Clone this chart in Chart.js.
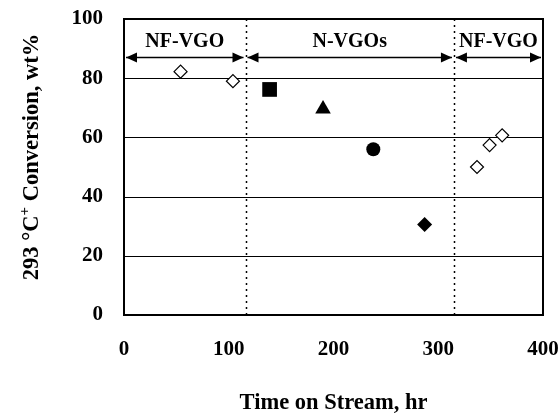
<!DOCTYPE html>
<html>
<head>
<meta charset="utf-8">
<script src="https://cdn.jsdelivr.net/npm/chart.js@4"></script>
<style>
  body { margin: 0; background: #fff; }
  #chart { display: block; }
</style>
</head>
<body>
<canvas id="chart" width="560" height="414"></canvas>
<script>
// NF-VGO feed (open diamonds)
const nfHours = [54, 104, 337, 349, 361];
const nfConv = [82.2, 79.0, 50.0, 57.4, 60.7];

// N-VGO feeds, one marker each
const nHours = [139, 190, 238, 287];
const nConv = [76.2, 69.6, 56.0, 30.6];

// feed periods along the top
const regionLabels = ['NF-VGO', 'N-VGOs', 'NF-VGO'];
const regionBounds = [0, 116, 315, 400];
const arrowLevel = 87.3;
const labelLevel = 92.3;

const yTicks = [0, 20, 40, 60, 80, 100];
const xTicks = [0, 100, 200, 300, 400];

const serif = 'Liberation Serif, Times New Roman, serif';

const nStyles = [
  { style: 'rect', r: 10.4 },
  { style: 'triangle', r: 9 },
  { style: 'circle', r: 7 },
  { style: 'rectRot', r: 7.5 }
];

const datasets = [{
  label: 'NF-VGO',
  data: nfHours.map((h, i) => ({ x: h, y: nfConv[i] })),
  pointStyle: 'rectRot',
  pointRadius: 6.5,
  backgroundColor: '#fff',
  borderColor: '#000',
  borderWidth: 1.2
}];
nHours.forEach((h, i) => {
  datasets.push({
    label: 'N-VGO ' + (i + 1),
    data: [{ x: h, y: nConv[i] }],
    pointStyle: nStyles[i].style,
    pointRadius: nStyles[i].r,
    backgroundColor: '#000',
    borderColor: '#000',
    borderWidth: 0
  });
});

// plot box taken from the scales themselves
function box(chart) {
  const { x, y } = chart.scales;
  return {
    left: x.getPixelForValue(x.min), right: x.getPixelForValue(x.max),
    top: y.getPixelForValue(y.max), bottom: y.getPixelForValue(y.min)
  };
}

const decor = {
  id: 'decor',
  beforeDatasetsDraw(chart) {
    const { ctx, scales: { x, y } } = chart;
    const a = box(chart);
    ctx.save();
    ctx.strokeStyle = '#000';
    ctx.lineWidth = 1;
    yTicks.forEach(v => {
      const py = Math.round(y.getPixelForValue(v)) + 0.5;
      ctx.beginPath();
      ctx.moveTo(a.left, py);
      ctx.lineTo(a.right, py);
      ctx.stroke();
    });
    ctx.lineWidth = 1.5;
    ctx.setLineDash([2, 4]);
    regionBounds.slice(1, -1).forEach(v => {
      const px = Math.round(x.getPixelForValue(v)) + 0.5;
      ctx.beginPath();
      ctx.moveTo(px, a.top);
      ctx.lineTo(px, a.bottom);
      ctx.stroke();
    });
    ctx.restore();
  },
  afterDatasetsDraw(chart) {
    const { ctx, scales: { x, y } } = chart;
    const a = box(chart);
    ctx.save();
    // arrows and labels
    const ay = Math.round(y.getPixelForValue(arrowLevel)) + 0.5;
    const ly = y.getPixelForValue(labelLevel);
    ctx.fillStyle = '#000';
    ctx.strokeStyle = '#000';
    ctx.lineWidth = 1.5;
    ctx.font = 'bold 20px ' + serif;
    ctx.textAlign = 'center';
    ctx.textBaseline = 'middle';
    for (let i = 0; i < regionLabels.length; i++) {
      const x0 = x.getPixelForValue(regionBounds[i]) + 2;
      const x1 = x.getPixelForValue(regionBounds[i + 1]) - 2;
      ctx.beginPath();
      ctx.moveTo(x0, ay);
      ctx.lineTo(x1, ay);
      ctx.stroke();
      [[x0, 1], [x1, -1]].forEach(([px, dir]) => {
        ctx.beginPath();
        ctx.moveTo(px, ay);
        ctx.lineTo(px + dir * 11, ay - 5);
        ctx.lineTo(px + dir * 11, ay + 5);
        ctx.closePath();
        ctx.fill();
      });
      ctx.fillText(regionLabels[i], (x0 + x1) / 2, ly);
    }
    // frame
    ctx.lineWidth = 2;
    ctx.strokeRect(a.left, a.top, a.right - a.left, a.bottom - a.top);

    // y axis title with superscript +
    const parts = [
      { t: '293 °C', f: 'bold 22.5px ' + serif, dy: 0 },
      { t: '+', f: 'bold 15px ' + serif, dy: -9 },
      { t: ' Conversion, wt%', f: 'bold 22.5px ' + serif, dy: 0 }
    ];
    let total = 0;
    parts.forEach(p => { ctx.font = p.f; p.w = ctx.measureText(p.t).width; total += p.w; });
    ctx.translate(37.5, a.top + (a.bottom - a.top) / 2 - 10);
    ctx.rotate(-Math.PI / 2);
    ctx.textAlign = 'left';
    ctx.textBaseline = 'alphabetic';
    let cx = -total / 2;
    parts.forEach(p => {
      ctx.font = p.f;
      ctx.fillText(p.t, cx, p.dy);
      cx += p.w;
    });
    ctx.restore();
  }
};

new Chart(document.getElementById('chart'), {
  type: 'scatter',
  data: { datasets },
  options: {
    responsive: false,
    animation: false,
    layout: { padding: { left: 0, top: 19, right: 17, bottom: 0 } },
    plugins: { legend: { display: false }, tooltip: { enabled: false } },
    scales: {
      x: {
        type: 'linear',
        min: 0, max: 400,
        afterBuildTicks: s => { s.ticks = xTicks.map(v => ({ value: v })); },
        afterFit: s => { s.height = 99; },
        grid: {
          display: true, drawOnChartArea: false, drawTicks: true,
          tickLength: 22, color: 'rgba(0,0,0,0)', tickColor: 'rgba(0,0,0,0)'
        },
        border: { display: false },
        ticks: { color: '#000', padding: 0, font: { family: serif, size: 21, weight: 'bold' } },
        title: {
          display: true, text: 'Time on Stream, hr', color: '#000',
          padding: { top: 0, bottom: -3 },
          font: { family: serif, size: 22.5, weight: 'bold' }
        }
      },
      y: {
        min: 0, max: 100,
        afterBuildTicks: s => { s.ticks = yTicks.map(v => ({ value: v })); },
        afterFit: s => { s.width = 124; s.paddingTop = 0; s.paddingBottom = 0; },
        grid: { display: false, drawTicks: false },
        border: { display: false },
        ticks: { color: '#000', padding: 21, font: { family: serif, size: 21, weight: 'bold' } },
        title: { display: false }
      }
    }
  },
  plugins: [decor]
});
</script>
</body>
</html>
